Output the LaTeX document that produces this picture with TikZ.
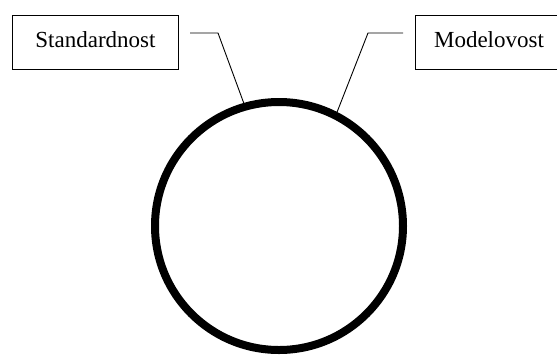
\documentclass[tikz,border=0pt]{standalone}
\usepackage{fontspec}
\setmainfont{Liberation Serif}
\begin{document}
\begin{tikzpicture}[x=1pt,y=-1pt,
  labelbox/.style={draw, line width=1pt, rectangle, minimum height=54pt, inner sep=0pt},
  labeltext/.style={font=\fontsize{23}{27}\selectfont, anchor=base, inner sep=0pt},
  leader/.style={line width=0.9pt},
  ring/.style={draw, circle, line width=8pt, minimum size=248pt, inner sep=0pt}]
\useasboundingbox (0,0) rectangle (557,354);
\clip (0,0) rectangle (557,354);
\node[labelbox, minimum width=166pt] (sbox) at (95,42) {};
\node[labeltext] (stext) at (95.5,47) {Standardnost};
\node[labelbox, minimum width=160pt] (mbox) at (495,42) {};
\node[labeltext] (mtext) at (489,47) {Modelovost};
\node[ring] (c) at (279,226) {};
\coordinate (sl0) at (190,33);
\coordinate (sl1) at (218,33);
\coordinate (ml0) at (403,33);
\coordinate (ml1) at (368,33);
\draw[leader] (sl0) -- (sl1) -- (c.106.3);
\draw[leader] (ml0) -- (ml1) -- (c.63.6);
\end{tikzpicture}
\end{document}
